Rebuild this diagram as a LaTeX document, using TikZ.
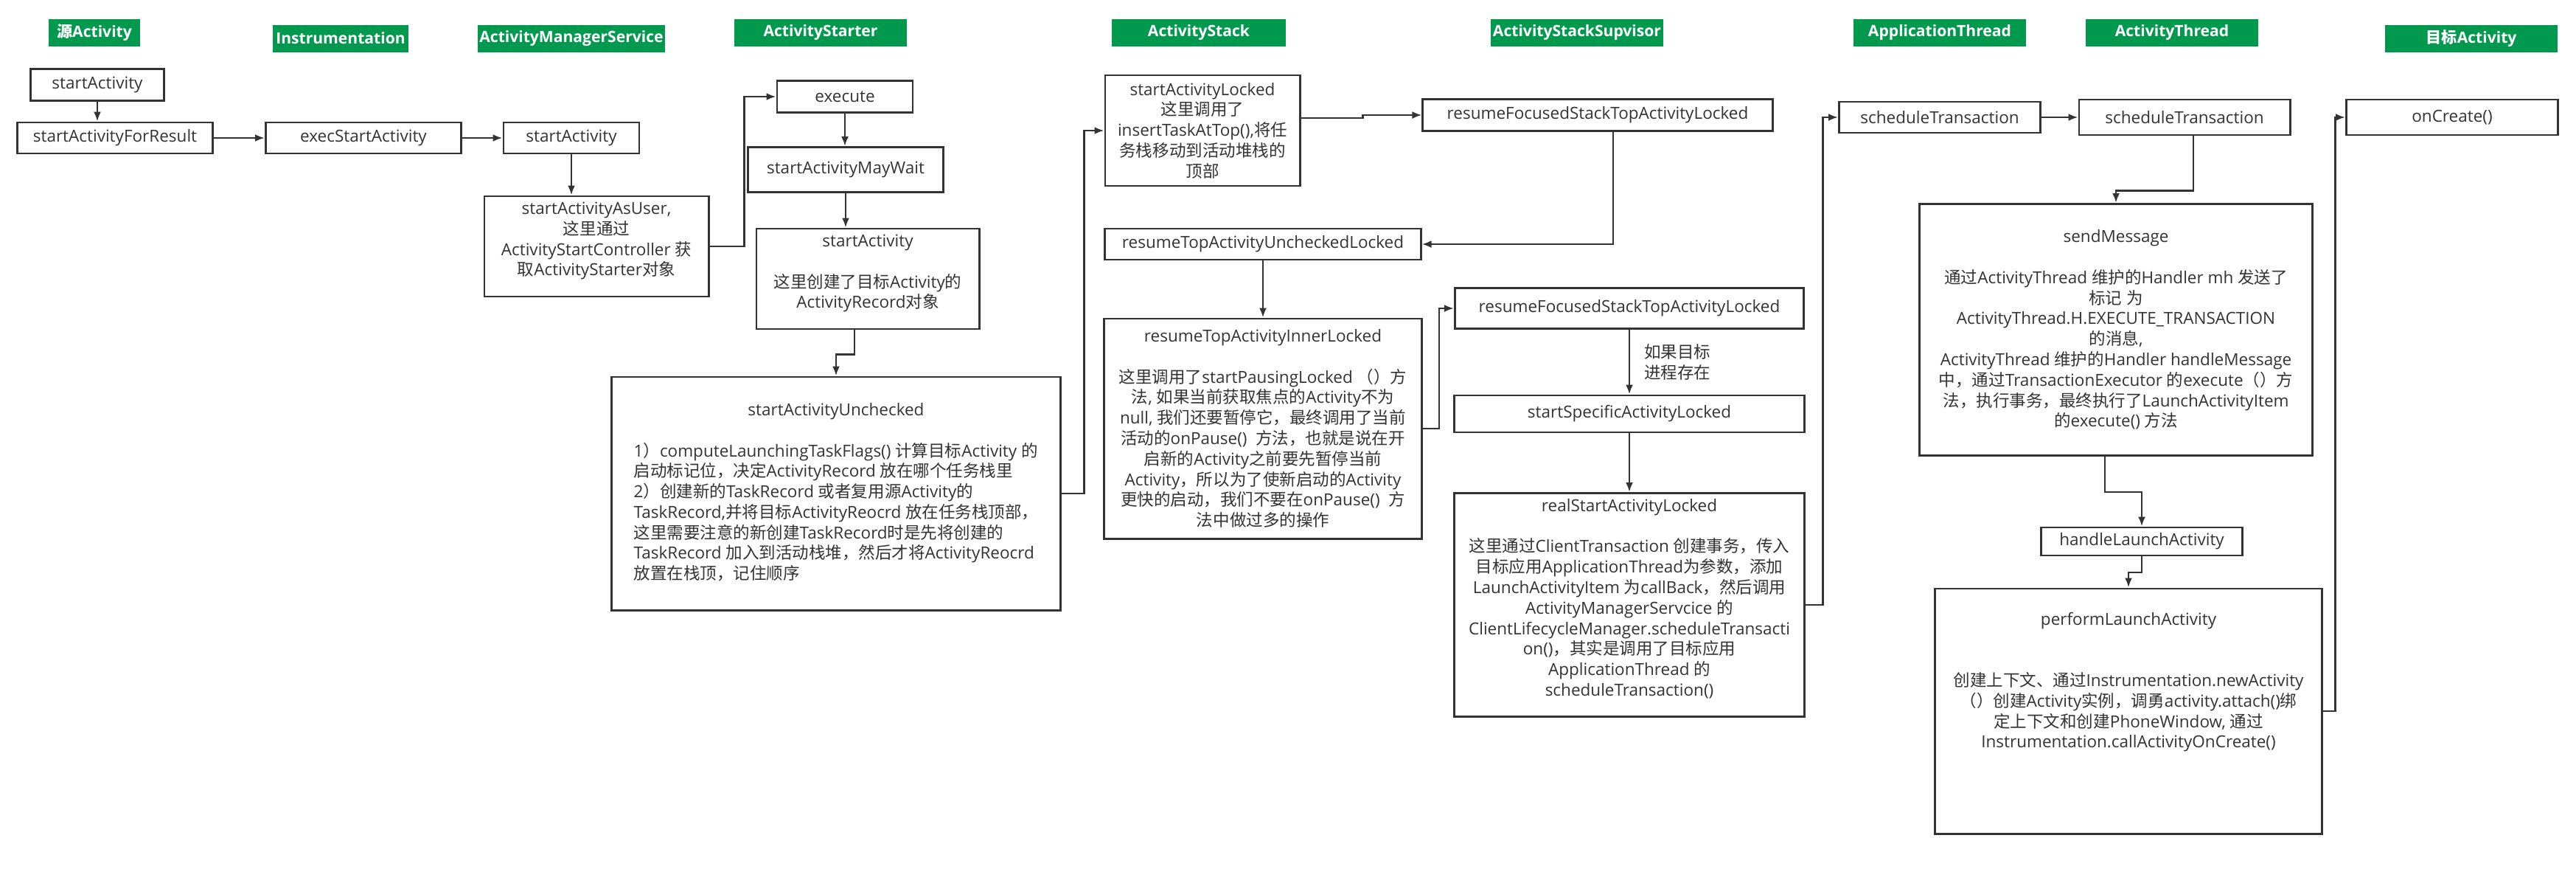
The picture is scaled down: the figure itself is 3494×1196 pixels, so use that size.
\documentclass[tikz,border=0pt]{standalone}
\usepackage{fontspec}
\setmainfont{Open Sans}
\newfontfamily\cjk{Noto Sans CJK SC}
\usepackage{xcolor}
\usetikzlibrary{arrows.meta}
\definecolor{hdrgreen}{RGB}{0,153,77}
\definecolor{linegray}{RGB}{51,51,51}

% Chinese characters switch to the CJK font automatically
\XeTeXinterchartokenstate=1
\newXeTeXintercharclass\cjkcls
\newcount\cjkc
\def\setcjkrange#1#2{\cjkc=#1\relax\loop\XeTeXcharclass\cjkc=\cjkcls\ifnum\cjkc<#2\advance\cjkc by 1\repeat}
\setcjkrange{"4E00}{"9FFF}
\setcjkrange{"3000}{"303F}
\setcjkrange{"FF00}{"FFEF}
\XeTeXinterchartoks 0 \cjkcls = {\cjk}
\XeTeXinterchartoks 4095 \cjkcls = {\cjk}
\XeTeXinterchartoks \cjkcls 0 = {\rmfamily}
\XeTeXinterchartoks \cjkcls 4095 = {\rmfamily}

\begin{document}
\begin{tikzpicture}[x=0.01cm, y=-0.01cm, >={Latex[length=1.3mm, width=1mm]},
        lane/.style={fill=hdrgreen, text=white, inner sep=0, minimum height=0.37cm, font=\fontsize{6.0}{7.2}\selectfont\bfseries},
        box/.style={draw=linegray, thick, fill=white, text=linegray, inner sep=0, align=center, font=\fontsize{6.4}{7.9}\selectfont},
        flow/.style={->, thick, draw=linegray}]
        \useasboundingbox (0, 0) rectangle (3494, 1196);

        % Lane headers
        \node[lane, minimum width=1.23cm] (src) at (128, 44) {源Activity};
        \node[lane, minimum width=1.84cm] (instr) at (462, 52) {Instrumentation};
        \node[lane, minimum width=2.53cm] (ams) at (775, 52) {ActivityManagerService};
        \node[lane, minimum width=2.33cm] (starter) at (1113, 44) {ActivityStarter};
        \node[lane, minimum width=2.35cm] (stack) at (1626, 44) {ActivityStack};
        \node[lane, minimum width=2.34cm] (supvisor) at (2139, 44) {ActivityStackSupvisor};
        \node[lane, minimum width=2.34cm] (appthread) at (2631, 44) {ApplicationThread};
        \node[lane, minimum width=2.34cm] (actthread) at (2946, 44) {ActivityThread};
        \node[lane, minimum width=2.34cm] (target) at (3352, 52) {目标Activity};

        % Source activity, Instrumentation, AMS
        \node[box, minimum width=1.81cm, minimum height=0.43cm] (start1) at (132, 115) {startActivity};
        \node[box, minimum width=2.65cm, minimum height=0.42cm] (forresult) at (156, 187) {startActivityForResult};
        \node[box, minimum width=2.65cm, minimum height=0.42cm] (execstart) at (493, 187) {execStartActivity};
        \node[box, minimum width=1.84cm, minimum height=0.42cm] (amsstart) at (775, 187) {startActivity};
        \node[box, minimum width=3.04cm, minimum height=1.36cm] (asuser) at (809, 334) {startActivityAsUser,\\这里通过\\ActivityStartController 获\\取ActivityStarter对象\\[-4.5pt]\strut};
        \draw[flow] (start1) -- (start1.south |- forresult.north);
        \draw[flow] (forresult) -- (execstart);
        \draw[flow] (execstart) -- (amsstart);
        \draw[flow] (amsstart) -- (amsstart.south |- asuser.north);

        % ActivityStarter
        \node[box, minimum width=1.84cm, minimum height=0.43cm] (execute) at (1146, 131) {execute};
        \node[box, minimum width=2.65cm, minimum height=0.61cm] (maywait) at (1147, 230) {startActivityMayWait};
        \node[box, minimum width=3.02cm, minimum height=1.36cm] (start2) at (1177, 378) {startActivity\\[7.9pt]这里创建了目标Activity的\\ActivityRecord对象\\[-4.5pt]\strut};
        \node[box, minimum width=6.08cm, minimum height=3.16cm] (unchecked) at (1134, 669) {\begin{tabular}{@{}l@{}}
                \multicolumn{1}{@{}c@{}}{startActivityUnchecked}\\[7.9pt]
                1）computeLaunchingTaskFlags() 计算目标Activity 的\\
                启动标记位，决定ActivityRecord 放在哪个任务栈里\\
                2）创建新的TaskRecord 或者复用源Activity的\\
                TaskRecord,并将目标ActivityReocrd 放在任务栈顶部，\\
                这里需要注意的新创建TaskRecord时是先将创建的\\
                TaskRecord 加入到活动栈堆，然后才将ActivityReocrd\\
                放置在栈顶，记住顺序
            \end{tabular}};
        \draw[flow] (asuser.east) -- ++(47, 0) |- (execute.west);
        \draw[flow] (execute) -- (execute.south |- maywait.north);
        \draw[flow] (maywait) -- (maywait.south |- start2.north);
        \draw[flow] ([xshift=-0.18cm]start2.south) -- ++(0, 33) -| (unchecked.north);

        % ActivityStack
        \node[box, minimum width=2.64cm, minimum height=1.50cm] (stacklocked) at (1631, 177) {startActivityLocked\\这里调用了\\insertTaskAtTop(),将任\\务栈移动到活动堆栈的\\顶部};
        \node[box, minimum width=4.28cm, minimum height=0.42cm] (toplocked) at (1713, 331) {resumeTopActivityUncheckedLocked};
        \node[box, minimum width=4.31cm, minimum height=2.98cm] (innerlocked) at (1713, 581) {resumeTopActivityInnerLocked\\[7.9pt]这里调用了startPausingLocked （）方\\法, 如果当前获取焦点的Activity不为\\null, 我们还要暂停它，最终调用了当前\\活动的onPause()\ \ 方法，也就是说在开\\启新的Activity之前要先暂停当前\\Activity，所以为了使新启动的Activity\\更快的启动，我们不要在onPause()\ \ 方\\法中做过多的操作};
        \draw[flow] (unchecked.east) -- ++(31, 0) |- (stacklocked.west);
        \draw[flow] (toplocked) -- (innerlocked);

        % ActivityStackSupvisor
        \node[box, minimum width=4.74cm, minimum height=0.43cm] (focused1) at (2167, 156) {resumeFocusedStackTopActivityLocked};
        \node[box, minimum width=4.73cm, minimum height=0.55cm] (focused2) at (2210, 418) {resumeFocusedStackTopActivityLocked};
        \node[box, minimum width=4.74cm, minimum height=0.50cm] (specific) at (2210, 561) {startSpecificActivityLocked};
        \node[box, minimum width=4.74cm, minimum height=3.03cm] (realstart) at (2210, 820) {realStartActivityLocked\\[7.9pt]这里通过ClientTransaction 创建事务，传入\\目标应用ApplicationThread为参数，添加\\LaunchActivityItem 为callBack，然后调用\\ActivityManagerServcice 的\\ClientLifecycleManager.scheduleTransacti\\on()，其实是调用了目标应用\\ApplicationThread 的\\scheduleTransaction()\\[-4.5pt]\strut};
        \draw[flow] ([yshift=0.17cm]stacklocked.east) -- ++(84, 0) |- (focused1.west);
        \draw[flow] ([xshift=0.21cm]focused1.south) |- (toplocked.east);
        \draw[flow] (innerlocked.east) -- ++(22, 0) |- (focused2.west);
        \draw[flow] (focused2) -- (specific) node[midway, right=0.19cm, inner sep=0, align=left, text=linegray, font=\fontsize{6.4}{7.9}\selectfont] {如果目标\\进程存在};
        \draw[flow] (specific) -- (realstart);

        % ApplicationThread, ActivityThread, target activity
        \node[box, minimum width=2.73cm, minimum height=0.42cm] (sched1) at (2631, 159) {scheduleTransaction};
        \node[box, minimum width=2.86cm, minimum height=0.48cm] (sched2) at (2963, 159) {scheduleTransaction};
        \node[box, minimum width=5.33cm, minimum height=3.41cm] (sendmsg) at (2870, 447) {sendMessage\\[7.9pt]通过ActivityThread 维护的Handler mh 发送了\\标记 为\\ActivityThread.H.EXECUTE\_TRANSACTION\\的消息,\\ActivityThread 维护的Handler handleMessage\\中，通过TransactionExecutor 的execute（）方\\法，执行事务，最终执行了LaunchActivityItem\\的execute() 方法};
        \node[box, minimum width=2.73cm, minimum height=0.38cm] (handle) at (2905, 734) {handleLaunchActivity};
        \node[box, minimum width=5.24cm, minimum height=3.32cm] (perform) at (2887, 964) {performLaunchActivity\\[15.8pt]创建上下文、通过Instrumentation.newActivity\\（）创建Activity实例，调勇activity.attach()绑\\定上下文和创建PhoneWindow, 通过\\Instrumentation.callActivityOnCreate()\\[13.7pt]\strut};
        \node[box, minimum width=2.87cm, minimum height=0.48cm] (oncreate) at (3326, 159) {onCreate()};
        \draw[flow] (realstart.east) -- ++(24, 0) |- (sched1.west);
        \draw[flow] (sched1) -- (sched2);
        \draw[flow] ([xshift=0.12cm]sched2.south) -- ++(0, 74) -| (sendmsg.north);
        \draw[flow] ([xshift=-0.15cm]sendmsg.south) -- ++(0, 48) -| (handle.north);
        \draw[flow] (handle) -- ++(0, 42) -| (perform.north);
        \draw[flow] (perform.east) -- ++(17, 0) |- (oncreate.west);
    \end{tikzpicture}
\end{document}
